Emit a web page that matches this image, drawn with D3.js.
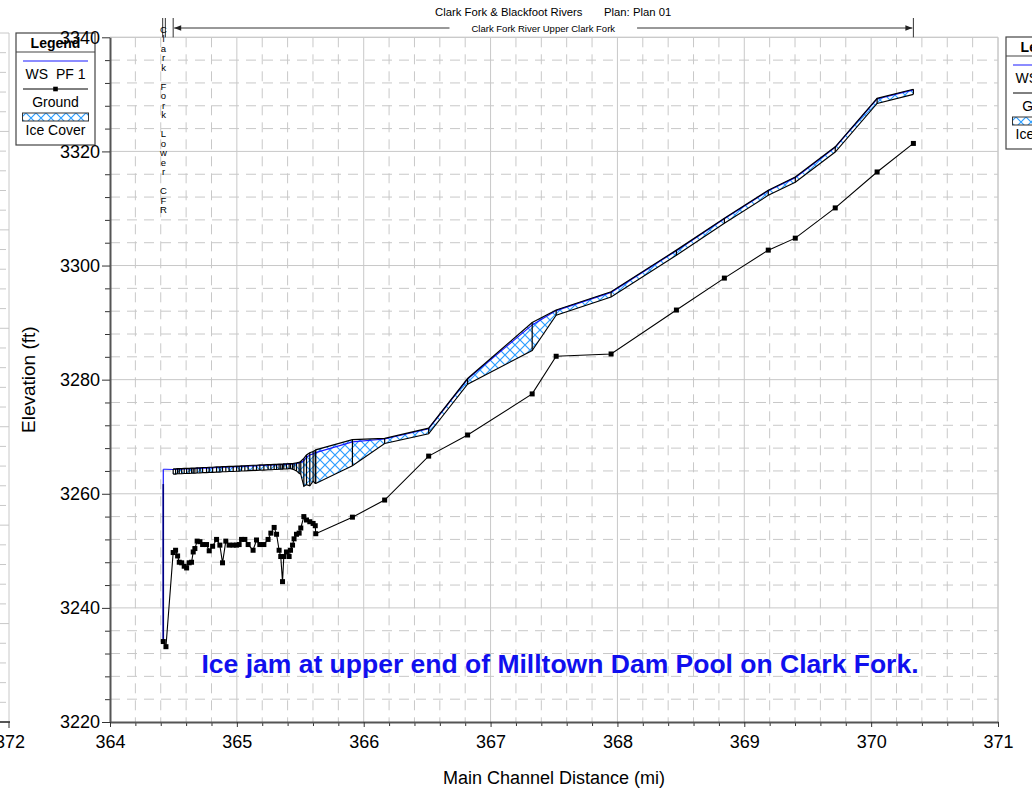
<!DOCTYPE html>
<html>
<head>
<meta charset="utf-8">
<script src="https://cdn.jsdelivr.net/npm/d3@7"></script>
<style>
  html, body { margin: 0; padding: 0; background: #fff; }
  svg { display: block; }
</style>
</head>
<body>
<svg id="chart" width="1032" height="795"></svg>
<script>
// ---- Profile data: Clark Fork & Blackfoot Rivers, Plan 01, profile PF 1 ----
// Main channel distance of each cross section (mi)
const stationMi = [
  364.420, 364.441,
  364.498, 364.517, 364.533, 364.546, 364.565, 364.585, 364.604, 364.624, 364.643, 364.656,
  364.669, 364.687, 364.709, 364.730, 364.761, 364.782, 364.809, 364.840, 364.866, 364.887,
  364.913, 364.939, 364.971, 364.998, 365.018, 365.037, 365.063, 365.089, 365.128, 365.155,
  365.181, 365.213, 365.246, 365.268, 365.294, 365.313, 365.333, 365.346, 365.360, 365.370,
  365.391, 365.412, 365.423, 365.439, 365.451, 365.470, 365.491, 365.504, 365.528, 365.549,
  365.575, 365.601, 365.618, 365.622,
  365.911, 366.165, 366.512, 366.819, 367.328, 367.517, 367.950, 368.465, 368.843, 369.189,
  369.402, 369.717, 370.047, 370.333
];
// Channel invert (ft)
const groundFt = [
  3234.1, 3233.2,
  3249.7, 3250.1, 3249.1, 3248.0, 3247.9, 3247.3, 3247.0, 3247.9, 3248.0, 3249.8,
  3250.4, 3251.7, 3251.6, 3251.1, 3251.1, 3250.0, 3250.8, 3252.0, 3251.0, 3247.9,
  3251.7, 3251.0, 3251.0, 3251.0, 3251.1, 3252.0, 3252.0, 3251.1, 3250.1, 3251.9,
  3251.1, 3251.1, 3252.0, 3253.1, 3254.1, 3252.9, 3250.1, 3249.0, 3244.6, 3249.0,
  3249.8, 3249.0, 3250.1, 3251.0, 3252.1, 3252.9, 3253.1, 3254.0, 3256.0, 3255.4,
  3255.1, 3254.8, 3254.4, 3253.0,
  3255.9, 3258.9, 3266.6, 3270.3, 3277.5, 3284.1, 3284.5, 3292.2, 3297.8, 3302.7,
  3304.8, 3310.1, 3316.4, 3321.4
];
// Water surface, PF 1 (ft)
const wsFt = [
  3264.3, 3264.3,
  3264.25, 3264.25, 3264.3, 3264.3, 3264.3, 3264.35, 3264.35, 3264.35, 3264.4, 3264.4,
  3264.4, 3264.45, 3264.45, 3264.5, 3264.5, 3264.55, 3264.55, 3264.6, 3264.6, 3264.65,
  3264.65, 3264.7, 3264.7, 3264.75, 3264.75, 3264.8, 3264.8, 3264.85, 3264.9, 3264.9,
  3264.95, 3264.95, 3265.0, 3265.0, 3265.05, 3265.05, 3265.1, 3265.1, 3265.1, 3265.15,
  3265.15, 3265.2, 3265.2, 3265.2, 3265.25, 3265.3, 3265.4, 3265.5, 3265.8, 3266.4,
  3266.8, 3267.0, 3267.2, 3267.2,
  3269.1, 3269.6, 3271.4, 3280.1, 3289.6, 3292.1, 3295.3, 3302.6, 3308.2, 3313.1,
  3315.4, 3320.7, 3329.2, 3330.8
];
// Top of ice cover (ft); null where there is no ice
const iceTopFt = [
  null, null,
  3264.35, 3264.35, 3264.4, 3264.4, 3264.4, 3264.45, 3264.45, 3264.45, 3264.5, 3264.5,
  3264.5, 3264.55, 3264.55, 3264.6, 3264.6, 3264.65, 3264.65, 3264.7, 3264.7, 3264.75,
  3264.75, 3264.8, 3264.8, 3264.85, 3264.85, 3264.9, 3264.9, 3264.95, 3265.0, 3265.0,
  3265.05, 3265.05, 3265.1, 3265.1, 3265.15, 3265.15, 3265.2, 3265.2, 3265.2, 3265.25,
  3265.25, 3265.3, 3265.3, 3265.3, 3265.35, 3265.4, 3265.5, 3265.7, 3266.2, 3266.8,
  3267.2, 3267.4, 3267.6, 3267.7,
  3269.5, 3269.7, 3271.5, 3280.2, 3290.0, 3292.2, 3295.4, 3302.7, 3308.3, 3313.2,
  3315.5, 3320.8, 3329.3, 3330.9
];
// Bottom of ice cover (ft)
const iceBottomFt = [
  null, null,
  3263.45, 3263.45, 3263.5, 3263.5, 3263.5, 3263.55, 3263.55, 3263.55, 3263.6, 3263.6,
  3263.6, 3263.65, 3263.65, 3263.7, 3263.7, 3263.75, 3263.75, 3263.8, 3263.8, 3263.85,
  3263.85, 3263.9, 3263.9, 3263.95, 3263.95, 3264.0, 3264.0, 3264.05, 3264.1, 3264.1,
  3264.15, 3264.15, 3264.2, 3264.2, 3264.25, 3264.25, 3264.3, 3264.3, 3264.3, 3264.35,
  3264.35, 3264.4, 3264.4, 3264.3, 3264.2, 3264.0, 3263.6, 3263.4, 3261.3, 3261.6,
  3261.4, 3262.2, 3261.8, 3261.8,
  3264.9, 3268.8, 3270.5, 3279.2, 3285.1, 3291.3, 3294.5, 3301.8, 3307.4, 3312.3,
  3314.6, 3319.9, 3328.4, 3330.0
];
// Crest of the dam structure at the downstream end (ft)
const damCrestFt = 3261.7;

// Axis ticks
const xTicksMi = [364, 365, 366, 367, 368, 369, 370, 371];
const yTicksFt = [3220, 3240, 3260, 3280, 3300, 3320, 3340];

// Titles and labels
const titleText = "Clark Fork & Blackfoot Rivers";
const planText = "Plan: Plan 01";
const upperReachName = "Clark Fork River Upper Clark Fork";
const lowerReachName = "Clark Fork Lower CFR";
const noteText = "Ice jam at upper end of Milltown Dam Pool on Clark Fork.";
const legendItems = ["WS\u00a0\u00a0PF 1", "Ground", "Ice Cover"];

// ---------------------------------------------------------------------------
const FONT = '"Liberation Sans", Arial, Helvetica, sans-serif';
const GRID = "#c8c8c8";
const WS_BLUE = "#1a1aff";
const HATCH_BLUE = "#2a9dff";

const svg = d3.select("#chart").attr("font-family", FONT);
svg.append("rect").attr("width", 1032).attr("height", 795).attr("fill", "#fff");

const x = d3.scaleLinear().domain([364, 371]).range([110, 998]);
const y = d3.scaleLinear().domain([3220, 3340]).range([722, 37.3]);
const [X0, X1] = x.range();
const [Y0, Y1] = y.range(); // Y0 bottom, Y1 top

// Crosshatch fill for ice cover
const defs = svg.append("defs");
function hatch(id) {
  const p = defs.append("pattern").attr("id", id)
    .attr("patternUnits", "userSpaceOnUse").attr("width", 10).attr("height", 10);
  p.append("rect").attr("width", 10).attr("height", 10).attr("fill", "#fff");
  p.append("path").attr("d", "M-2,-2L12,12M12,-2L-2,12")
    .attr("stroke", HATCH_BLUE).attr("stroke-width", 1.2).attr("fill", "none");
}
hatch("iceHatch");
hatch("iceHatchLegend");

// ---- Edge of the neighbouring plot window on the far left ----
const ghost = svg.append("g");
const ghostMajor = d3.range(0, 8).map(i => 33 + i * 98.43);
const ghostMinor = d3.range(0, 36).map(i => 33 + i * 19.686).filter((v, i) => i % 5 !== 0);
ghost.selectAll("line.gmin").data(ghostMinor).join("line")
  .attr("x1", 0).attr("x2", 9).attr("y1", d => d).attr("y2", d => d)
  .attr("stroke", GRID).attr("stroke-dasharray", "6,5");
ghost.selectAll("line.gmaj").data(ghostMajor).join("line")
  .attr("x1", 0).attr("x2", 9).attr("y1", d => d).attr("y2", d => d)
  .attr("stroke", GRID);
ghost.append("line").attr("x1", 9).attr("x2", 9).attr("y1", 33).attr("y2", 722)
  .attr("stroke", GRID);
ghost.append("line").attr("x1", 0).attr("x2", 10).attr("y1", 722).attr("y2", 722)
  .attr("stroke", "#555").attr("stroke-width", 2);
ghost.append("line").attr("x1", 9).attr("x2", 9).attr("y1", 722).attr("y2", 728)
  .attr("stroke", "#333");
ghost.append("text").attr("x", 10).attr("y", 748).attr("text-anchor", "middle")
  .attr("font-size", 18).text("372");

// ---- Grid ----
const xMinor = d3.range(364.2, 371, 0.2).filter(v => Math.abs(v - Math.round(v)) > 1e-6);
const yMinor = d3.range(3224, 3340, 4).filter(v => v % 20 !== 0);
const grid = svg.append("g");
grid.selectAll("line.xm").data(xMinor).join("line")
  .attr("x1", d => x(d)).attr("x2", d => x(d)).attr("y1", Y1).attr("y2", Y0)
  .attr("stroke", GRID).attr("stroke-dasharray", "10,7");
grid.selectAll("line.ym").data(yMinor).join("line")
  .attr("x1", X0).attr("x2", X1).attr("y1", d => y(d)).attr("y2", d => y(d))
  .attr("stroke", GRID).attr("stroke-dasharray", "10,7");
grid.selectAll("line.xM").data(xTicksMi.slice(1)).join("line")
  .attr("x1", d => x(d)).attr("x2", d => x(d)).attr("y1", Y1).attr("y2", Y0)
  .attr("stroke", GRID);
grid.selectAll("line.yM").data(yTicksFt.slice(1)).join("line")
  .attr("x1", X0).attr("x2", X1).attr("y1", d => y(d)).attr("y2", d => y(d))
  .attr("stroke", GRID);

// ---- Profile ----
const rows = stationMi.map((mi, i) => ({
  mi, ground: groundFt[i], ws: wsFt[i], top: iceTopFt[i], bot: iceBottomFt[i]
}));
const iceRows = rows.filter(d => d.top != null);

const plot = svg.append("g");

// Ice cover band
plot.append("path").datum(rows)
  .attr("d", d3.area().defined(d => d.top != null)
    .x(d => x(d.mi)).y0(d => y(d.bot)).y1(d => y(d.top)))
  .attr("fill", "url(#iceHatch)");

// Dam face at the downstream end
plot.append("line")
  .attr("x1", x(rows[0].mi)).attr("x2", x(rows[0].mi))
  .attr("y1", y(rows[0].ground)).attr("y2", y(rows[0].ws))
  .attr("stroke", WS_BLUE).attr("stroke-width", 1.2);
plot.append("line")
  .attr("x1", x(rows[0].mi)).attr("x2", x(rows[0].mi))
  .attr("y1", y(rows[0].ground)).attr("y2", y(damCrestFt))
  .attr("stroke", "#000080").attr("stroke-width", 1.6);

// Water surface
plot.append("path").datum(rows)
  .attr("d", d3.line().x(d => x(d.mi)).y(d => y(d.ws)))
  .attr("fill", "none").attr("stroke", WS_BLUE).attr("stroke-width", 1.2);

// Ice outlines: top, bottom and a divider at each cross section
const iceLine = key => d3.line().defined(d => d.top != null).x(d => x(d.mi)).y(d => y(d[key]));
plot.append("path").datum(rows).attr("d", iceLine("top"))
  .attr("fill", "none").attr("stroke", "#000").attr("stroke-width", 1.2);
plot.append("path").datum(rows).attr("d", iceLine("bot"))
  .attr("fill", "none").attr("stroke", "#000").attr("stroke-width", 1.1);
plot.selectAll("line.xs").data(iceRows).join("line")
  .attr("x1", d => x(d.mi)).attr("x2", d => x(d.mi))
  .attr("y1", d => y(d.bot)).attr("y2", d => y(d.top))
  .attr("stroke", "#000").attr("stroke-width", 1.2);

// Ground
plot.append("path").datum(rows)
  .attr("d", d3.line().x(d => x(d.mi)).y(d => y(d.ground)))
  .attr("fill", "none").attr("stroke", "#000").attr("stroke-width", 1.1);
plot.selectAll("rect.gp").data(rows).join("rect")
  .attr("x", d => x(d.mi) - 2.5).attr("y", d => y(d.ground) - 2.5)
  .attr("width", 5).attr("height", 5).attr("fill", "#000");

// ---- Frame and axes ----
svg.append("line").attr("x1", X0).attr("x2", X1).attr("y1", Y1).attr("y2", Y1).attr("stroke", GRID);
svg.append("line").attr("x1", X1).attr("x2", X1).attr("y1", Y1).attr("y2", Y0).attr("stroke", GRID);

function styleAxis(g) {
  g.attr("font-family", FONT).attr("font-size", 18);
  g.select(".domain").attr("stroke", "#555").attr("stroke-width", 2);
  g.selectAll(".tick line").attr("stroke", "#333");
  g.selectAll(".tick text").attr("fill", "#000");
}
const yMinorAxis = svg.append("g").attr("transform", `translate(${X0},0)`)
  .call(d3.axisLeft(y).tickValues(yMinor).tickSize(5).tickFormat(() => ""));
yMinorAxis.select(".domain").remove();
yMinorAxis.selectAll(".tick line").attr("stroke", "#333");
const xMinorAxis = svg.append("g").attr("transform", `translate(0,${Y0})`)
  .call(d3.axisBottom(x).tickValues(xMinor).tickSize(4).tickFormat(() => ""));
xMinorAxis.select(".domain").remove();
xMinorAxis.selectAll(".tick line").attr("stroke", "#333");

// ---- Legends ----
function drawLegend(x0, y0, patId) {
  const g = svg.append("g").attr("transform", `translate(${x0},${y0})`)
    .attr("font-family", FONT);
  g.append("rect").attr("width", 79).attr("height", 112)
    .attr("fill", "#fff").attr("stroke", "#444").attr("stroke-width", 1.2);
  g.append("text").attr("x", 39.5).attr("y", 14.5).attr("text-anchor", "middle")
    .attr("font-size", 14).attr("font-weight", "bold").text("Legend");
  g.append("line").attr("x1", 0).attr("x2", 79).attr("y1", 19).attr("y2", 19)
    .attr("stroke", "#444").attr("stroke-width", 1.2);
  g.append("line").attr("x1", 7).attr("x2", 72).attr("y1", 28).attr("y2", 28)
    .attr("stroke", WS_BLUE).attr("stroke-width", 1.2);
  g.append("text").attr("x", 39.5).attr("y", 46).attr("text-anchor", "middle")
    .attr("font-size", 14).text(legendItems[0]);
  g.append("line").attr("x1", 7).attr("x2", 72).attr("y1", 56).attr("y2", 56)
    .attr("stroke", "#000").attr("stroke-width", 1);
  g.append("rect").attr("x", 37.2).attr("y", 53.7).attr("width", 4.6).attr("height", 4.6)
    .attr("fill", "#000");
  g.append("text").attr("x", 39.5).attr("y", 74).attr("text-anchor", "middle")
    .attr("font-size", 14).text(legendItems[1]);
  g.append("rect").attr("x", 6.5).attr("y", 80).attr("width", 66).attr("height", 8)
    .attr("fill", `url(#${patId})`).attr("stroke", "#333").attr("stroke-width", 1);
  g.append("text").attr("x", 39.5).attr("y", 102).attr("text-anchor", "middle")
    .attr("font-size", 14).text(legendItems[2]);
}
drawLegend(16, 33, "iceHatchLegend");
drawLegend(1006, 37, "iceHatchLegend");

// Main axes on top of the legend box
const intFmt = d3.format("d");
styleAxis(svg.append("g").attr("transform", `translate(${X0},0)`)
  .call(d3.axisLeft(y).tickValues(yTicksFt).tickFormat(intFmt)
    .tickSize(8).tickSizeOuter(0).tickPadding(2)));
styleAxis(svg.append("g").attr("transform", `translate(0,${Y0})`)
  .call(d3.axisBottom(x).tickValues(xTicksMi).tickFormat(intFmt)
    .tickSize(5).tickSizeOuter(0).tickPadding(8)));

// Axis titles
svg.append("text").attr("x", (X0 + X1) / 2).attr("y", 784).attr("text-anchor", "middle")
  .attr("font-size", 18).text("Main Channel Distance (mi)");
svg.append("text").attr("transform", `translate(35,${(Y0 + Y1) / 2}) rotate(-90)`)
  .attr("text-anchor", "middle").attr("font-size", 19).text("Elevation (ft)");

// ---- Title and reach bracket ----
svg.append("text").attr("x", 435).attr("y", 16).attr("font-size", 11.3).text(titleText);
svg.append("text").attr("x", 604).attr("y", 16).attr("font-size", 11.3).text(planText);

const bracket = svg.append("g").attr("stroke", "#333").attr("fill", "none");
const lowA = x(stationMi[0]) - 0.6, lowB = x(stationMi[1]) - 0.6;
const upA = x(stationMi[2]), upB = x(stationMi[stationMi.length - 1]);
[lowA, lowB, upA, upB].forEach(px => bracket.append("line")
  .attr("x1", px).attr("x2", px).attr("y1", 18).attr("y2", 37.3));

const reachLabel = svg.append("text").attr("x", (upA + upB) / 2).attr("y", 32)
  .attr("text-anchor", "middle").attr("font-size", 9.5).text(upperReachName);
const half = reachLabel.node().getComputedTextLength() / 2;
const midX = (upA + upB) / 2;
bracket.append("line").attr("x1", upA + 1).attr("x2", midX - half - 22).attr("y1", 28).attr("y2", 28);
bracket.append("line").attr("x1", midX + half + 22).attr("x2", upB - 1).attr("y1", 28).attr("y2", 28);
svg.append("path").attr("d", `M${upA + 1},28 l7,-2.8 l0,5.6 Z`).attr("fill", "#222");
svg.append("path").attr("d", `M${upB - 1},28 l-7,-2.8 l0,5.6 Z`).attr("fill", "#222");

// Lower reach name, one letter per line
const lowText = svg.append("text").attr("font-size", 9.5).attr("text-anchor", "middle");
Array.from(lowerReachName).forEach((ch, i) => {
  lowText.append("tspan").attr("x", (lowA + lowB) / 2 - 0.5).attr("y", 32.5 + i * 9.5)
    .text(ch === " " ? "\u00a0" : ch);
});

// ---- Note ----
svg.append("text").attr("x", 560).attr("y", 673).attr("text-anchor", "middle")
  .attr("font-size", 26.5).attr("font-weight", "bold").attr("fill", "#1010ee")
  .text(noteText);
</script>
</body>
</html>
